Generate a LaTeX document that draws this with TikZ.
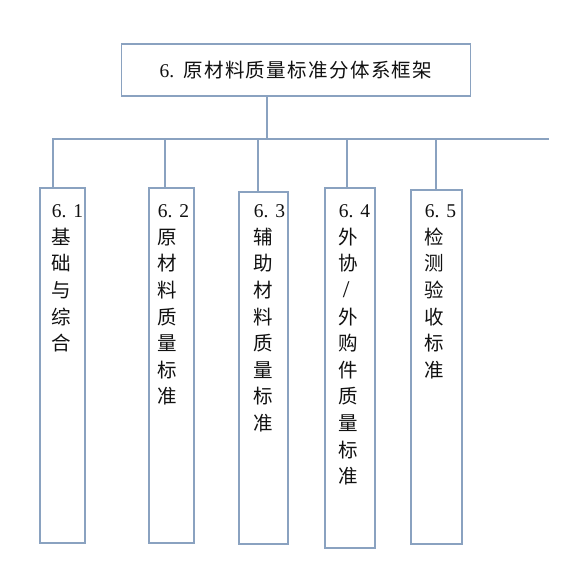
\documentclass[tikz,border=0pt]{standalone}
\usepackage{fontspec}
\setmainfont{Liberation Serif}
\newfontfamily\cjk{Noto Sans CJK SC}
\definecolor{edge}{HTML}{8AA2C0}
\definecolor{ink}{HTML}{111111}
\newcommand\dg[1]{{\rmfamily #1}}
\begin{document}
\begin{tikzpicture}[x=1pt,y=-1pt,line width=1.6pt,
  box/.style={draw=edge,fill=white,rectangle,inner sep=0pt,anchor=north west},
  txt/.style={text=ink,inner sep=0pt,anchor=north west,align=left,font=\cjk\fontsize{19.5}{26.6}\selectfont},
  conn/.style={draw=edge}]
\useasboundingbox (0,0) rectangle (573,561);
% title
\node[box,anchor=center,minimum width=349pt,minimum height=52pt,text=ink,
  font=\cjk\fontsize{19.5}{22}\selectfont] (top) at (296,70)
  {\dg{6.}\hspace{9pt}{\addfontfeature{LetterSpace=7}原材料质量标准分体系框架}};
% boxes
\node[box,minimum width=45pt,minimum height=355pt] (b1) at (39,187) {};
\node[box,minimum width=45pt,minimum height=355pt] (b2) at (148,187) {};
\node[box,minimum width=49pt,minimum height=352pt] (b3) at (238,191) {};
\node[box,minimum width=50pt,minimum height=360pt] (b4) at (324,187) {};
\node[box,minimum width=51pt,minimum height=354pt] (b5) at (410,189) {};
% texts
\node[txt] (t1) at (51,204) {\dg{6.\hspace{7pt}1}\\基\\础\\与\\综\\合};
\node[txt] (t2) at (157,204) {\dg{6.\hspace{7pt}2}\\原\\材\\料\\质\\量\\标\\准};
\node[txt] (t3) at (253,204) {\dg{6.\hspace{7pt}3}\\辅\\助\\材\\料\\质\\量\\标\\准};
\node[txt] (t4) at (338,204) {\dg{6.\hspace{7pt}4}\\外\\协\\\hspace{4pt}{\rmfamily\fontsize{24}{26.6}\selectfont /}\\外\\购\\件\\质\\量\\标\\准};
\node[txt] (t5) at (424,204) {\dg{6.\hspace{7pt}5}\\检\\测\\验\\收\\标\\准};
% connectors
\coordinate (busL) at (52,139);
\coordinate (busR) at (549,139);
\coordinate (jt) at (267,139);
\coordinate (j1) at (53,139);
\coordinate (j2) at (165,139);
\coordinate (j3) at (258,139);
\coordinate (j4) at (347,139);
\coordinate (j5) at (436,139);
\draw[conn] (busL) -- (busR);
\draw[conn] (jt) -- (jt |- top.south);
\draw[conn] (j1) -- (j1 |- b1.north);
\draw[conn] (j2) -- (j2 |- b2.north);
\draw[conn] (j3) -- (j3 |- b3.north);
\draw[conn] (j4) -- (j4 |- b4.north);
\draw[conn] (j5) -- (j5 |- b5.north);
\end{tikzpicture}
\end{document}
